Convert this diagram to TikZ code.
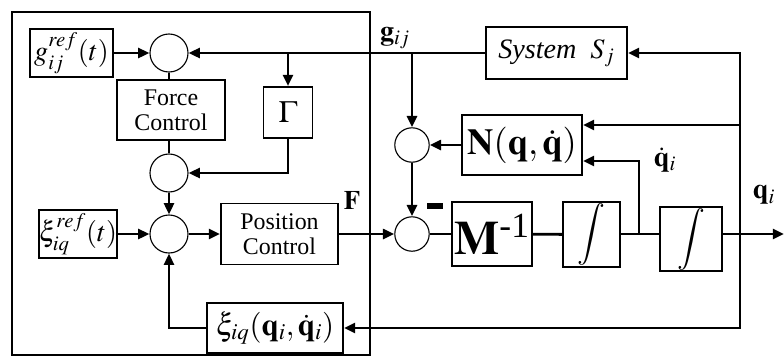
\documentclass[tikz,border=0pt]{standalone}
\usepackage{amsmath}
\usepackage{mathptmx}
\usepackage[no-math]{fontspec}
\setmainfont{Liberation Serif}
\usetikzlibrary{arrows.meta}

\begin{document}
\begin{tikzpicture}[x=0.025cm, y=-0.025cm, >={Triangle[length=8pt,width=7pt]},
    blk/.style={draw, line width=1.3pt, inner sep=0pt, align=center},
    sumc/.style={draw, circle, line width=0.8pt, inner sep=0pt},
    sig/.style={->, line width=2pt},
    wire/.style={line width=2pt}]
    \useasboundingbox (0,0) rectangle (784,358);
    % rahmen links
    \draw[line width=1.4pt] (12,12) rectangle (370,355);

    % summierstellen
    \node[sumc, minimum size=0.95cm] (c1) at (169,53) {};
    \node[sumc, minimum size=0.95cm] (c2) at (169,173) {};
    \node[sumc, minimum size=0.95cm] (c3) at (169,234) {};
    \node[sumc, minimum size=0.86cm] (c5) at (412,145) {};
    \node[sumc, minimum size=0.86cm] (c4) at (412,234) {};

    % bloecke
    \node[blk, minimum width=2.075cm, minimum height=1.2cm] (gref) at (71.5,53) {\fontsize{20}{22}\selectfont $g_{ij}^{ref}\!\left(t\right)$};
    \node[blk, minimum width=2.7cm, minimum height=1.5cm, font=\fontsize{17}{18}\selectfont] (fc) at (171,110) {Force\\Control};
    \node[blk, minimum width=1.225cm, minimum height=1.275cm] (gam) at (288,112.5) {\fontsize{22}{24}\selectfont $\Gamma$};
    \node[blk, minimum width=1.95cm, minimum height=1.2cm] (xref) at (78,234) {\fontsize{20}{22}\selectfont $\xi_{iq}^{ref}\!\left(t\right)$};
    \node[blk, minimum width=2.925cm, minimum height=1.525cm, font=\fontsize{17}{18}\selectfont] (pc) at (279.5,234) {Position\\Control};
    \node[blk, minimum width=3.4cm, minimum height=1.25cm] (xfb) at (275,328) {\fontsize{22}{24}\selectfont $\xi_{iq}\!\left(\mathbf{q}_{i},\dot{\mathbf{q}}_{i}\right)$};
    \node[blk, minimum width=3.525cm, minimum height=1.3cm] (sys) at (556.5,53) {\fontsize{20}{22}\selectfont \textit{System}\ \ $S_{j}$};
    \node[blk, minimum width=3.0cm, minimum height=1.5cm] (nq) at (522,145) {\fontsize{26}{28}\selectfont $\mathbf{N}\!\left(\mathbf{q},\dot{\mathbf{q}}\right)$};
    \node[blk, minimum width=2.0cm, minimum height=1.6cm] (minv) at (492,234) {\fontsize{34}{36}\selectfont $\mathbf{M}^{\text{-1}}$};
    \node[blk, minimum width=1.425cm, minimum height=1.625cm] (int1) at (591.5,234.5) {\fontsize{22}{24}\selectfont $\displaystyle\int$};
    \node[blk, minimum width=1.55cm, minimum height=1.6cm] (int2) at (691,239) {\fontsize{22}{24}\selectfont $\displaystyle\int$};

    % beschriftungen
    \node (lF) at (352,201) {\fontsize{19}{20}\selectfont $\mathbf{F}$};
    \node (lg) at (395,38) {\fontsize{20}{22}\selectfont $\mathbf{g}_{ij}$};
    \node (lqd) at (665,160) {\fontsize{20}{22}\selectfont $\dot{\mathbf{q}}_{i}$};
    \node (lq) at (764,195) {\fontsize{20}{22}\selectfont $\mathbf{q}_{i}$};
    \node[inner sep=0pt] (minus) at (435,206) {\rule{11pt}{4pt}};

    % hilfspunkte
    \coordinate (jg) at (288,53);
    \coordinate (jn) at (412,53);
    \coordinate (jq) at (639,234);
    \coordinate (qdn) at (639,161);
    \coordinate (rtop) at (740,53);
    \coordinate (rn) at (740,125);
    \coordinate (rmid) at (740,234);
    \coordinate (qout) at (784,234);

    % kraftzweig
    \draw[sig] (gref.east) -- (c1.west);
    \draw[sig] (sys.west) -- (c1.east);
    \draw[sig] (jg) -- (gam.north);
    \draw[wire] (c1.south) -- (c1.south |- fc.north);
    \draw[wire] (c2.north |- fc.south) -- (c2.north);
    \draw[sig] (gam.south) |- (c2.east);
    \draw[sig] (c2) -- (c3);

    % positionszweig
    \draw[sig] (xref) -- (c3);
    \draw[sig] (c3) -- (pc);
    \draw[sig] (pc.east |- c4) -- (c4);
    \draw[sig] (xfb.west) -| (c3.south);

    % strecke
    \draw[sig] (jn) -- (c5.north);
    \draw[sig] (nq) -- (c5);
    \draw[sig] (c5) -- (c4);
    \draw[wire] (c4) -- (minv);
    \draw[wire] (minv) -- (int1);
    \draw[wire] (int1.east |- c4) -- (int2.west |- c4);
    \draw[sig] (int2.east |- c4) -- (qout);
    \draw[sig] (jq) -- (qdn) -- (nq.east |- qdn);
    \draw[sig] (rn) -- (nq.east |- rn);
    \draw[sig] (rmid) -- (rtop) -- (sys.east);
    \draw[sig] (rmid) |- (xfb.east);
\end{tikzpicture}
\end{document}
